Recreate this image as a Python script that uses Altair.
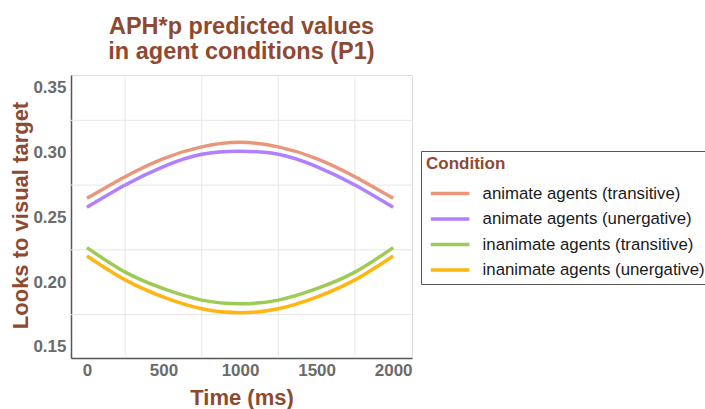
import altair as alt
import pandas as pd

# Model predictions sampled every 250 ms
time_ms = [0, 250, 500, 750, 1000, 1250, 1500, 1750, 2000]
conditions = [
    "animate agents (transitive)",
    "animate agents (unergative)",
    "inanimate agents (transitive)",
    "inanimate agents (unergative)",
]
animate_transitive = [0.2648, 0.2815, 0.2955, 0.3045, 0.3080, 0.3045, 0.2955, 0.2815, 0.2648]
animate_unergative = [0.2579, 0.2751, 0.2893, 0.2988, 0.3011, 0.2988, 0.2893, 0.2751, 0.2579]
inanimate_transitive = [0.2267, 0.2078, 0.1950, 0.1862, 0.1834, 0.1862, 0.1950, 0.2078, 0.2267]
inanimate_unergative = [0.2203, 0.2018, 0.1885, 0.1795, 0.1765, 0.1795, 0.1885, 0.2018, 0.2203]
line_colors = ["#E9967A", "#AF80FF", "#9DCB55", "#FFB612"]

x_ticks = [0, 500, 1000, 1500, 2000]
y_ticks = [0.15, 0.20, 0.25, 0.30, 0.35]
grid_x = [250, 750, 1250, 1750]
grid_y = [0.175, 0.225, 0.275, 0.325]

series = [animate_transitive, animate_unergative, inanimate_transitive, inanimate_unergative]
rows = []
for name, values in zip(conditions, series):
    for t, v in zip(time_ms, values):
        rows.append({"time": t, "looks": v, "Condition": name})
df = pd.DataFrame(rows)

FONT = "Liberation Sans"
BROWN = "#8E4A30"
GRAY = "#6B6B6B"

x_scale = alt.Scale(domain=[-104, 2123], nice=False, zero=False)
y_scale = alt.Scale(domain=[0.1415, 0.36], nice=False, zero=False)

x_axis = alt.Axis(
    values=x_ticks,
    format="d",
    grid=False,
    ticks=False,
    labelFont=FONT,
    labelFontSize=17,
    labelFontWeight="bold",
    labelColor=GRAY,
    labelPadding=4,
    domainColor="#555555",
    domainWidth=1.5,
    title="Time (ms)",
    titleFont=FONT,
    titleFontSize=22,
    titleFontWeight="bold",
    titleColor=BROWN,
    titlePadding=9,
)

y_axis = alt.Axis(
    values=y_ticks,
    format=".2f",
    grid=False,
    ticks=False,
    labelFont=FONT,
    labelFontSize=17,
    labelFontWeight="bold",
    labelColor=GRAY,
    labelPadding=5,
    domainColor="#555555",
    domainWidth=1.5,
    title="Looks to visual target",
    titleFont=FONT,
    titleFontSize=22,
    titleFontWeight="bold",
    titleColor=BROWN,
    titleX=-51,
    titleY=140,
    titleAlign="center",
    titleBaseline="middle",
)

# Light grid lines between the labelled ticks
vgrid = alt.Chart(pd.DataFrame({"time": grid_x})).mark_rule(
    color="#E6E6E6", strokeWidth=1
).encode(x=alt.X("time:Q", scale=x_scale, axis=x_axis))

hgrid = alt.Chart(pd.DataFrame({"looks": grid_y})).mark_rule(
    color="#E6E6E6", strokeWidth=1
).encode(y=alt.Y("looks:Q", scale=y_scale, axis=y_axis))

lines = alt.Chart(df).mark_line(strokeWidth=3.5, interpolate="natural").encode(
    x=alt.X("time:Q", scale=x_scale, axis=x_axis),
    y=alt.Y("looks:Q", scale=y_scale, axis=y_axis),
    color=alt.Color(
        "Condition:N",
        sort=conditions,
        scale=alt.Scale(domain=conditions, range=line_colors),
        legend=alt.Legend(
            title="Condition",
            orient="none",
            legendX=350,
            legendY=76,
            titleFont=FONT,
            titleFontSize=17,
            titleFontWeight="bold",
            titleColor=BROWN,
            titlePadding=9,
            labelFont=FONT,
            labelFontSize=16.8,
            labelColor="#1A1A1A",
            labelLimit=400,
            labelOffset=21,
            symbolType="M-2,0H2",
            symbolSize=372,
            symbolStrokeWidth=3.5,
            symbolOffset=12.6,
            rowPadding=4.5,
            padding=5,
            fillColor="#FFFFFF",
            strokeColor="#555555",
        ),
    ),
)

chart = alt.layer(vgrid, hgrid, lines).properties(
    width=341,
    height=283,
    autosize=alt.AutoSizeParams(type="none"),
    padding={"left": 71, "top": 75, "right": 293, "bottom": 51},
    title=alt.TitleParams(
        text=["APH*p predicted values", " in agent conditions (P1)"],
        font=FONT,
        fontSize=23.5,
        fontWeight="bold",
        color=BROWN,
        anchor="middle",
        lineHeight=25,
        offset=11,
    ),
).configure_view(
    fill="#F9F9F9", stroke="#777777", strokeWidth=1
).configure(background="#FFFFFF")

chart.save("out.html", embed_options={"renderer": "svg", "actions": False})
